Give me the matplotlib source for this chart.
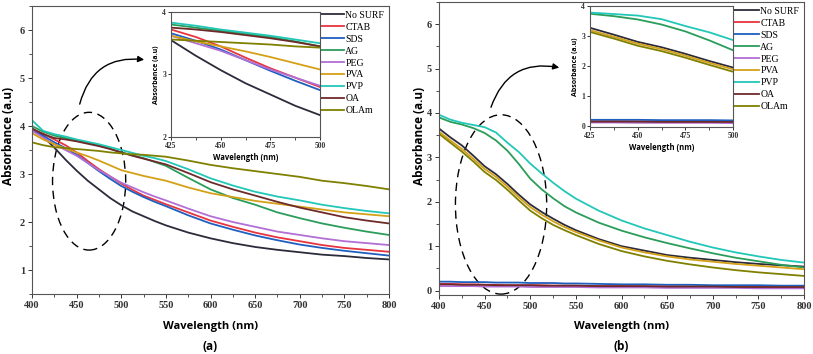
import matplotlib
matplotlib.use("Agg")
import matplotlib.pyplot as plt
from matplotlib.patches import Ellipse, FancyArrowPatch
from matplotlib.ticker import MultipleLocator

## wavelength grid (nm)
wl = [400, 412.5, 425, 437.5, 450, 462.5, 475, 487.5, 500, 512.5, 525, 537.5, 550,
      575, 600, 625, 650, 675, 700, 725, 750, 775, 800]

names = ['No SURF', 'CTAB', 'SDS', 'AG', 'PEG', 'PVA', 'PVP', 'OA', 'OLAm']
colors = ['#2b2b3b', '#e8343f', '#1f5fbf', '#2a9d5a', '#b26fd6', '#d4a017', '#22c7b8', '#6e2a2a', '#808000']

## panel (a) absorbance
a_nosurf = [3.95, 3.78, 3.55, 3.30, 3.07, 2.86, 2.68, 2.50, 2.35, 2.22, 2.12, 2.02, 1.93,
            1.78, 1.66, 1.56, 1.48, 1.42, 1.37, 1.32, 1.29, 1.25, 1.22]
a_ctab = [3.92, 3.84, 3.72, 3.60, 3.45, 3.27, 3.10, 2.95, 2.80, 2.67, 2.55, 2.46, 2.37,
          2.20, 2.03, 1.90, 1.78, 1.68, 1.60, 1.52, 1.46, 1.42, 1.38]
a_sds = [3.90, 3.80, 3.66, 3.54, 3.40, 3.23, 3.06, 2.90, 2.75, 2.63, 2.52, 2.42, 2.33,
         2.14, 1.97, 1.84, 1.72, 1.62, 1.53, 1.46, 1.40, 1.35, 1.30]
a_ag = [4.00, 3.88, 3.80, 3.75, 3.70, 3.65, 3.60, 3.53, 3.45, 3.39, 3.33, 3.25, 3.17,
        2.92, 2.68, 2.50, 2.36, 2.20, 2.08, 1.97, 1.88, 1.80, 1.73]
a_peg = [3.90, 3.76, 3.62, 3.50, 3.38, 3.23, 3.08, 2.95, 2.82, 2.72, 2.62, 2.53, 2.45,
         2.28, 2.12, 2.00, 1.90, 1.80, 1.73, 1.66, 1.60, 1.56, 1.52]
a_pva = [3.85, 3.72, 3.62, 3.53, 3.45, 3.37, 3.28, 3.18, 3.08, 3.02, 2.96, 2.91, 2.86,
         2.72, 2.60, 2.52, 2.44, 2.38, 2.32, 2.26, 2.20, 2.16, 2.12]
a_pvp = [4.12, 3.90, 3.83, 3.78, 3.72, 3.67, 3.62, 3.56, 3.50, 3.44, 3.38, 3.33, 3.27,
         3.10, 2.91, 2.76, 2.63, 2.53, 2.45, 2.36, 2.29, 2.23, 2.18]
a_oa = [3.95, 3.83, 3.75, 3.72, 3.68, 3.63, 3.58, 3.52, 3.45, 3.38, 3.32, 3.26, 3.20,
        3.02, 2.83, 2.68, 2.55, 2.42, 2.30, 2.20, 2.10, 2.03, 1.97]
a_olam = [3.66, 3.60, 3.56, 3.54, 3.52, 3.50, 3.48, 3.45, 3.43, 3.41, 3.40, 3.38, 3.36,
          3.28, 3.19, 3.12, 3.06, 3.00, 2.94, 2.86, 2.81, 2.75, 2.68]

## panel (b) absorbance
b_nosurf = [3.65, 3.45, 3.27, 3.04, 2.80, 2.62, 2.40, 2.16, 1.94, 1.77, 1.62, 1.48, 1.36,
            1.16, 1.00, 0.90, 0.80, 0.74, 0.69, 0.64, 0.60, 0.57, 0.54]
b_ctab = [0.15, 0.15, 0.14, 0.14, 0.13, 0.13, 0.12, 0.12, 0.12, 0.12, 0.11, 0.11, 0.11,
          0.10, 0.10, 0.09, 0.09, 0.09, 0.08, 0.08, 0.08, 0.07, 0.07]
b_sds = [0.20, 0.20, 0.19, 0.19, 0.19, 0.18, 0.18, 0.18, 0.17, 0.17, 0.17, 0.16, 0.16,
         0.15, 0.14, 0.14, 0.13, 0.13, 0.12, 0.12, 0.12, 0.11, 0.11]
b_ag = [3.90, 3.80, 3.74, 3.66, 3.55, 3.38, 3.15, 2.85, 2.52, 2.28, 2.08, 1.90, 1.76,
        1.53, 1.35, 1.20, 1.07, 0.95, 0.84, 0.74, 0.66, 0.58, 0.52]
b_peg = [0.10, 0.10, 0.10, 0.10, 0.09, 0.09, 0.09, 0.09, 0.08, 0.08, 0.08, 0.08, 0.08,
         0.07, 0.07, 0.07, 0.06, 0.06, 0.06, 0.06, 0.05, 0.05, 0.05]
b_pva = [3.58, 3.38, 3.19, 2.97, 2.74, 2.56, 2.34, 2.10, 1.88, 1.71, 1.56, 1.43, 1.32,
         1.13, 0.97, 0.86, 0.77, 0.70, 0.65, 0.60, 0.56, 0.52, 0.48]
b_pvp = [3.96, 3.85, 3.78, 3.73, 3.68, 3.56, 3.33, 3.12, 2.86, 2.64, 2.43, 2.24, 2.07,
         1.80, 1.58, 1.40, 1.25, 1.10, 0.97, 0.86, 0.77, 0.69, 0.63]
b_oa = [0.14, 0.14, 0.13, 0.13, 0.13, 0.12, 0.12, 0.12, 0.12, 0.11, 0.11, 0.11, 0.11,
        0.10, 0.10, 0.10, 0.09, 0.09, 0.09, 0.08, 0.08, 0.08, 0.08]
b_olam = [3.53, 3.33, 3.13, 2.91, 2.67, 2.49, 2.27, 2.03, 1.80, 1.63, 1.48, 1.36, 1.25,
          1.05, 0.89, 0.77, 0.67, 0.59, 0.52, 0.46, 0.41, 0.37, 0.33]

data_a = [a_nosurf, a_ctab, a_sds, a_ag, a_peg, a_pva, a_pvp, a_oa, a_olam]
data_b = [b_nosurf, b_ctab, b_sds, b_ag, b_peg, b_pva, b_pvp, b_oa, b_olam]

W, H = 813, 354
fig = plt.figure(figsize=(W / 100, H / 100), dpi=100)


def rect(x0, y0, x1, y1):
    return [x0 / W, 1 - y1 / H, (x1 - x0) / W, (y1 - y0) / H]


def style(ax, size):
    for lab in ax.get_xticklabels() + ax.get_yticklabels():
        lab.set_fontfamily('Liberation Serif')
        lab.set_fontweight('bold')
        lab.set_fontsize(size)
    for s in ax.spines.values():
        s.set_color('#555555')
        s.set_linewidth(0.8)
    ax.tick_params(direction='out', length=3, width=0.7, colors='#333333', pad=2)
    ax.tick_params(which='minor', direction='out', length=2, width=0.6, colors='#333333')


def panel(r, data, ylim, yticks, ins_r, ins_ylim, ins_yticks, ell, arr, letter, ylab_x):
    ax = fig.add_axes(rect(*r))
    for d, c, n in zip(data, colors, names):
        ax.plot(wl, d, color=c, linewidth=1.3, label=n)
    ax.set_xlim(400, 800)
    ax.set_ylim(*ylim)
    ax.set_xticks(range(400, 801, 50))
    ax.xaxis.set_minor_locator(MultipleLocator(25))
    ax.set_yticks(yticks)
    ax.yaxis.set_minor_locator(MultipleLocator(0.5))
    style(ax, 7.5)
    xc = (r[0] + r[2]) / 2 / W
    fig.text(xc, 1 - 326 / H, 'Wavelength (nm)', ha='center', va='center',
             fontsize=8, family='Open Sans', weight='bold')
    fig.text(xc, 1 - 346 / H, letter, ha='center', va='center',
             fontsize=8.5, family='Open Sans', weight='bold')
    fig.text(ylab_x / W, 1 - 136 / H, 'Absorbance (a.u)', ha='center', va='center',
             rotation=90, fontsize=8.5, family='Open Sans', weight='bold')
    ax.legend(loc='upper right', frameon=False, handlelength=3.4,
              handletextpad=0.1, labelspacing=0.3, borderaxespad=0.1,
              prop={'family': 'Liberation Serif', 'size': 7})
    # dashed ellipse and curved arrow
    ax.add_patch(Ellipse(ell[0], ell[1], ell[2], fill=False, linestyle=(0, (6, 4)),
                         linewidth=1.0, color='black'))
    ax.add_patch(FancyArrowPatch(arr[0], arr[1], connectionstyle='arc3,rad=-0.45',
                                 arrowstyle='-|>', mutation_scale=9, linewidth=1.0,
                                 color='black'))
    # inset
    ins = fig.add_axes(rect(*ins_r))
    for d, c in zip(data, colors):
        ins.plot(wl, d, color=c, linewidth=1.3)
    ins.set_xlim(425, 500)
    ins.set_ylim(*ins_ylim)
    ins.set_xticks([425, 450, 475, 500])
    ins.xaxis.set_minor_locator(MultipleLocator(12.5))
    ins.set_yticks(ins_yticks)
    style(ins, 5.5)
    ins.tick_params(length=2, pad=1.5)
    ins.set_xlabel('Wavelength (nm)', fontsize=5.5, labelpad=2, family='Open Sans', weight='bold')
    ins.set_ylabel('Absorbance (a.u)', fontsize=5, labelpad=1.5, family='Open Sans', weight='bold')
    return ax


panel((32, 6, 389, 294), data_a, (0.5, 6.5), [1, 2, 3, 4, 5, 6],
      (171, 12, 320, 137), (2, 4), [2, 3, 4],
      ((464, 2.85), 82, 2.87), ((452.7, 4.40), (528.8, 5.375)), '(a)', 8)
panel((439, 2, 804, 295), data_b, (-0.1, 6.5), [0, 1, 2, 3, 4, 5, 6],
      (590, 6, 733, 127), (-0.05, 4), [0, 1, 2, 3, 4],
      ((468, 1.94), 100, 4.04), ((456, 4.07), (534.8, 5.01)), '(b)', 419)

fig.savefig('out.png', dpi=100)
